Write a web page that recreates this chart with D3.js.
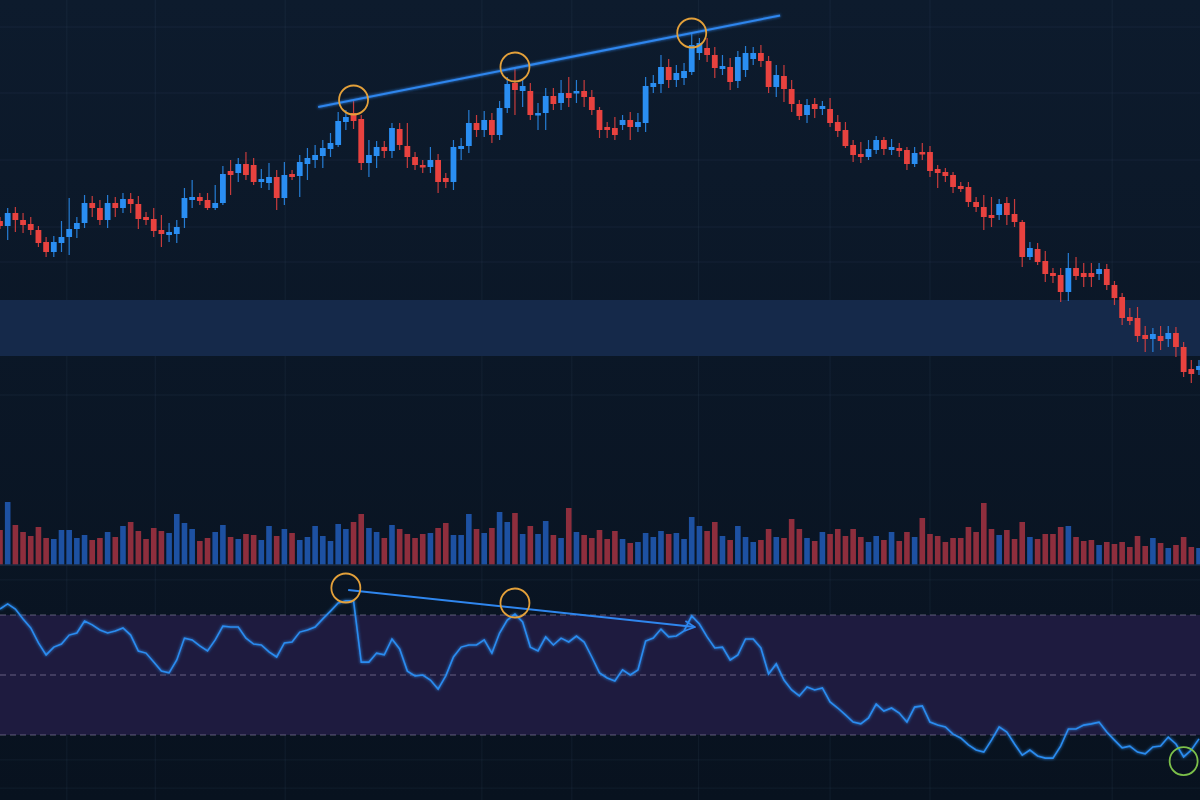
<!DOCTYPE html>
<html>
<head>
<meta charset="utf-8">
<script src="https://cdn.jsdelivr.net/npm/d3@7"></script>
<style>
  html, body { margin: 0; padding: 0; background: #0b1828; }
  svg { display: block; }
</style>
</head>
<body>
<div id="chart"></div>
<script>
// ---- data ----
const opens = [
  37.9, 37.4, 38.7, 38.0, 37.6, 37.0, 35.8, 34.8, 35.7, 36.3,
  37.1, 37.7, 39.7, 39.2, 38.0, 39.7, 39.2, 40.1, 39.6, 38.3,
  38.1, 37.0, 36.5, 36.6, 38.2, 40.0, 40.3, 40.0, 39.2, 39.7,
  42.9, 42.7, 43.6, 43.5, 41.8, 41.7, 42.3, 40.2, 42.6, 42.4,
  43.6, 44.0, 44.4, 45.1, 45.5, 47.8, 48.7, 48.1, 43.7, 44.4,
  45.3, 44.9, 47.1, 45.4, 44.3, 43.5, 43.3, 44.0, 42.2, 41.8,
  45.1, 45.4, 47.7, 47.0, 48.0, 46.5, 49.2, 51.7, 50.9, 50.9,
  48.5, 48.7, 50.4, 49.7, 50.7, 50.7, 50.9, 50.3, 49.0, 47.3,
  47.2, 47.5, 48.0, 47.3, 47.7, 51.3, 51.6, 53.3, 52.0, 52.2,
  52.8, 54.7, 55.2, 54.5, 53.1, 53.3, 51.9, 53.0, 54.1, 54.7,
  53.9, 51.3, 52.4, 51.1, 49.6, 48.5, 49.6, 49.1, 49.1, 47.8,
  47.0, 45.5, 44.6, 44.3, 45.0, 46.0, 45.0, 45.2, 45.0, 43.6,
  44.8, 44.8, 43.1, 42.8, 42.5, 41.4, 41.3, 39.8, 39.3, 38.5,
  38.5, 39.7, 38.6, 37.8, 34.3, 35.1, 33.9, 32.7, 32.5, 30.8,
  33.2, 32.7, 32.7, 32.6, 33.1, 31.5, 30.3, 28.3, 28.2, 26.5,
  26.1, 26.4, 26.1, 26.7, 25.3, 23.1, 23.0
];
const closes = [
  37.4, 38.7, 38.0, 37.5, 37.0, 35.7, 34.8, 35.8, 36.3, 37.1,
  37.7, 39.7, 39.2, 38.0, 39.7, 39.2, 40.1, 39.6, 38.1, 38.0,
  36.9, 36.6, 36.8, 37.3, 40.2, 40.3, 39.9, 39.2, 39.7, 42.6,
  42.5, 43.6, 42.5, 41.8, 42.1, 42.3, 40.2, 42.5, 42.3, 43.8,
  44.2, 44.5, 45.2, 45.7, 47.9, 48.3, 47.9, 43.7, 44.5, 45.3,
  44.9, 47.2, 45.5, 44.3, 43.5, 43.3, 44.0, 41.8, 41.8, 45.3,
  45.4, 47.7, 47.0, 48.0, 46.5, 49.2, 51.6, 51.0, 51.4, 48.5,
  48.7, 50.4, 49.6, 50.7, 50.2, 50.9, 50.3, 49.0, 47.0, 47.0,
  46.5, 48.0, 47.3, 47.8, 51.4, 51.7, 53.3, 52.0, 52.7, 52.9,
  55.5, 55.7, 54.5, 53.2, 53.4, 51.8, 54.3, 54.7, 54.7, 53.9,
  51.3, 52.5, 51.1, 49.6, 48.4, 49.5, 49.1, 49.4, 47.7, 46.9,
  45.4, 44.5, 44.3, 45.1, 46.0, 45.1, 45.3, 44.9, 43.6, 44.7,
  44.6, 42.9, 42.7, 42.4, 41.3, 41.1, 39.8, 39.3, 38.3, 38.2,
  39.6, 38.5, 37.8, 34.3, 35.2, 33.8, 32.6, 32.4, 30.8, 33.2,
  32.4, 32.3, 32.3, 33.1, 31.5, 30.2, 28.2, 27.9, 26.4, 26.1,
  26.6, 25.9, 26.7, 25.3, 22.8, 22.6, 23.4
];
const highs = [
  38.3, 39.2, 39.3, 38.7, 38.3, 37.4, 36.3, 36.4, 37.9, 40.2,
  38.3, 40.5, 40.4, 40.0, 40.5, 40.3, 40.7, 40.7, 40.4, 38.8,
  39.2, 38.5, 37.7, 38.0, 41.2, 42.0, 40.7, 40.7, 41.5, 43.4,
  44.0, 44.2, 44.8, 44.2, 43.1, 43.7, 43.0, 43.8, 43.0, 44.5,
  45.2, 45.5, 46.0, 46.7, 48.8, 49.0, 50.0, 48.5, 46.0, 45.9,
  45.9, 47.7, 47.7, 47.7, 44.8, 44.0, 45.3, 44.6, 42.7, 46.0,
  46.2, 49.0, 48.5, 48.9, 48.7, 49.9, 52.3, 53.3, 52.0, 51.7,
  49.7, 51.2, 51.2, 52.0, 52.3, 52.0, 52.0, 51.0, 49.3, 47.8,
  48.3, 48.5, 48.8, 48.7, 52.3, 52.5, 54.5, 54.1, 53.5, 53.7,
  56.7, 56.2, 56.2, 55.3, 54.5, 54.2, 54.9, 55.4, 55.3, 55.5,
  54.4, 53.5, 53.5, 52.0, 50.0, 50.1, 50.2, 49.9, 50.2, 48.5,
  47.8, 46.0, 45.8, 46.0, 46.4, 46.3, 46.1, 45.7, 45.3, 45.3,
  45.7, 45.4, 43.5, 43.2, 42.8, 41.8, 41.8, 40.3, 40.5, 40.3,
  40.1, 40.3, 40.1, 38.0, 35.8, 35.7, 34.9, 33.2, 33.2, 34.7,
  34.3, 33.7, 33.7, 33.7, 33.6, 31.9, 30.7, 29.2, 29.3, 27.4,
  27.2, 27.4, 27.4, 27.3, 25.8, 24.0, 24.0
];
const lows = [
  37.1, 36.0, 36.8, 36.7, 36.5, 35.3, 34.3, 34.3, 34.8, 34.5,
  36.2, 37.2, 38.3, 37.5, 37.2, 38.3, 38.7, 38.7, 37.1, 37.5,
  36.3, 35.3, 35.8, 35.7, 37.2, 39.2, 39.5, 39.0, 39.0, 39.5,
  40.5, 41.8, 42.0, 41.5, 41.2, 41.0, 39.0, 39.5, 42.0, 40.3,
  42.0, 43.2, 43.2, 44.3, 45.3, 47.0, 47.1, 43.0, 42.3, 43.2,
  44.2, 44.2, 45.0, 43.2, 43.0, 42.7, 42.7, 40.7, 41.2, 41.0,
  44.0, 44.7, 46.3, 46.3, 45.7, 46.0, 48.7, 48.5, 49.3, 48.0,
  47.0, 47.0, 49.0, 49.0, 49.3, 49.7, 49.3, 48.5, 46.2, 46.2,
  46.0, 47.0, 46.0, 46.8, 46.8, 50.7, 50.7, 51.2, 51.3, 51.5,
  52.5, 54.0, 53.8, 52.2, 52.5, 51.0, 51.2, 52.3, 53.5, 53.3,
  50.7, 50.3, 49.8, 48.8, 48.0, 47.7, 48.2, 48.5, 47.3, 46.3,
  45.2, 43.8, 43.7, 44.0, 44.6, 44.5, 44.5, 44.3, 43.0, 43.3,
  44.0, 42.3, 41.2, 41.8, 40.7, 40.8, 39.3, 38.8, 37.0, 37.3,
  38.0, 37.5, 37.3, 33.3, 34.0, 33.5, 31.8, 31.7, 29.8, 29.9,
  32.0, 31.3, 31.3, 32.0, 31.0, 29.5, 27.5, 27.5, 25.8, 24.8,
  24.8, 25.0, 25.3, 24.3, 22.3, 21.7, 22.5
];
const volumes = [
  3.5, 6.3, 4.0, 3.3, 2.9, 3.8, 2.7, 2.6, 3.5, 3.5,
  2.7, 3.0, 2.5, 2.7, 3.3, 2.8, 3.9, 4.3, 3.4, 2.6,
  3.7, 3.4, 3.2, 5.1, 4.2, 3.6, 2.4, 2.7, 3.3, 4.0,
  2.8, 2.6, 3.1, 3.0, 2.5, 3.9, 2.9, 3.6, 3.2, 2.5,
  2.8, 3.9, 2.9, 2.4, 4.1, 3.6, 4.3, 5.1, 3.7, 3.3,
  2.7, 4.0, 3.6, 3.1, 2.7, 3.1, 3.2, 3.7, 4.2, 3.0,
  3.0, 5.1, 3.6, 3.2, 3.7, 5.3, 4.3, 5.2, 3.1, 3.9,
  3.1, 4.4, 3.0, 2.7, 5.7, 3.3, 3.0, 2.7, 3.5, 2.6,
  3.4, 2.6, 2.2, 2.3, 3.2, 2.8, 3.4, 3.1, 3.2, 2.6,
  4.8, 3.9, 3.4, 4.3, 2.9, 2.5, 3.9, 2.8, 2.3, 2.5,
  3.6, 2.8, 2.7, 4.6, 3.6, 2.7, 2.4, 3.3, 3.1, 3.6,
  2.9, 3.6, 2.8, 2.3, 2.9, 2.5, 3.3, 2.4, 3.3, 2.8,
  4.7, 3.1, 2.9, 2.3, 2.7, 2.7, 3.8, 3.3, 6.2, 3.6,
  3.0, 3.5, 2.6, 4.3, 2.8, 2.6, 3.1, 3.1, 3.8, 3.9,
  2.8, 2.4, 2.5, 2.0, 2.3, 2.1, 2.3, 1.8, 2.9, 1.9,
  2.7, 2.2, 1.7, 2.0, 2.8, 1.8, 1.7
];
const rsi = [
  72.0, 73.7, 72.0, 68.7, 65.7, 60.7, 56.7, 59.3, 60.3, 63.3,
  64.0, 68.0, 66.7, 65.0, 64.0, 64.7, 65.7, 63.3, 58.0, 57.3,
  54.3, 51.3, 50.7, 55.0, 62.3, 61.7, 59.7, 58.0, 61.7, 66.3,
  66.0, 66.0, 62.3, 60.3, 60.0, 57.7, 56.0, 60.7, 61.0, 64.3,
  65.0, 66.0, 68.7, 71.3, 74.0, 74.7, 74.7, 54.3, 54.3, 57.3,
  56.7, 62.0, 58.7, 51.3, 49.7, 50.0, 48.3, 45.3, 49.7, 56.0,
  59.3, 60.0, 60.0, 61.7, 57.3, 64.0, 68.3, 70.3, 67.7, 59.3,
  58.0, 62.7, 60.0, 62.3, 61.0, 63.0, 61.0, 56.0, 50.7, 49.0,
  48.0, 51.7, 50.0, 51.7, 61.3, 62.3, 65.3, 62.7, 63.0, 64.7,
  69.7, 67.0, 62.7, 59.0, 59.3, 55.0, 56.7, 62.0, 62.0, 59.0,
  50.3, 53.7, 48.3, 45.0, 43.0, 46.0, 45.0, 45.7, 41.0, 39.0,
  36.7, 34.3, 33.7, 35.7, 40.3, 38.0, 39.0, 37.3, 34.3, 39.3,
  39.7, 34.3, 33.3, 32.7, 30.3, 29.0, 26.7, 25.0, 24.3, 28.3,
  32.7, 31.0, 27.0, 23.3, 25.0, 23.0, 22.3, 22.3, 26.3, 32.0,
  32.0, 33.3, 33.7, 34.3, 31.0, 28.3, 25.7, 26.3, 24.3, 23.7,
  26.0, 26.3, 29.3, 27.0, 22.7, 25.0, 28.7
];

// levels and annotations
const supportZone = [24.4, 30.0];          // price band
const rsiLevels = [70, 50, 30];            // dashed guides
const rsiBand = [30, 70];
const priceGrid = [57.3, 50.7, 44.0, 37.3, 33.8, 20.5];
const rsiGrid = [81.7, 21.7, 12.3];
const timeGrid = [8.7, 20.2, 37.1, 62.7, 74.4, 90.9, 108.0, 121.0, 144.7];
const highPivots = [46, 67, 90];           // candles with rising highs
const trendSpan = [41.4, 101.5];           // trend line extent (bar index)
const rsiPivots = [{ i: 45, v: 79.0 }, { i: 67, v: 74.0 }];
const rsiArrow = [{ i: 45.3, v: 78.3 }, { i: 90.4, v: 66.0 }];
const rsiLow = { i: 154, v: 21.3 };

const W = 1200, H = 800;
const N = closes.length;

const svg = d3.select("#chart").append("svg")
  .attr("width", W).attr("height", H);

const defs = svg.append("defs");
const bg = defs.append("linearGradient").attr("id", "bg")
  .attr("x1", 0).attr("y1", 0).attr("x2", 0).attr("y2", 1);
bg.append("stop").attr("offset", "0%").attr("stop-color", "#0d1b2d");
bg.append("stop").attr("offset", "100%").attr("stop-color", "#08121f");

const glow = defs.append("filter").attr("id", "glow")
  .attr("x", "-20%").attr("y", "-20%").attr("width", "140%").attr("height", "140%");
glow.append("feGaussianBlur").attr("stdDeviation", 1.6).attr("result", "b");
const fm = glow.append("feMerge");
fm.append("feMergeNode").attr("in", "b");
fm.append("feMergeNode").attr("in", "SourceGraphic");

defs.append("marker").attr("id", "arrow")
  .attr("viewBox", "0 0 12 12").attr("refX", 11).attr("refY", 6)
  .attr("markerWidth", 12).attr("markerHeight", 12)
  .attr("markerUnits", "userSpaceOnUse").attr("orient", "auto")
  .append("path").attr("d", "M1,1 L11,6 L1,11")
  .attr("fill", "none").attr("stroke", "#2f86ee").attr("stroke-width", 1.6);

svg.append("rect").attr("width", W).attr("height", H).attr("fill", "url(#bg)");

// scales
const x = d3.scaleLinear().domain([0, N - 1]).range([0, 1199]);
const yPrice = d3.scaleLinear().domain([20, 60]).range([400, 0]);
const yVol = d3.scaleLinear().domain([0, 8]).range([565, 485]);
const yRsi = d3.scaleLinear().domain([10, 85]).range([795, 570]);

const up = i => closes[i] >= opens[i];
const BLUE = "#2a8ef2", RED = "#e8423f";
const gridColor = "rgba(110,140,180,0.09)";

// grid
svg.append("g").selectAll("line").data(timeGrid).join("line")
  .attr("x1", d => x(d)).attr("x2", d => x(d))
  .attr("y1", 0).attr("y2", H)
  .attr("stroke", gridColor);
svg.append("g").selectAll("line").data(priceGrid).join("line")
  .attr("x1", 0).attr("x2", W)
  .attr("y1", d => yPrice(d)).attr("y2", d => yPrice(d))
  .attr("stroke", gridColor);
svg.append("g").selectAll("line").data(rsiGrid).join("line")
  .attr("x1", 0).attr("x2", W)
  .attr("y1", d => yRsi(d)).attr("y2", d => yRsi(d))
  .attr("stroke", gridColor);

// support zone
svg.append("rect")
  .attr("x", 0).attr("width", W)
  .attr("y", yPrice(supportZone[1]))
  .attr("height", yPrice(supportZone[0]) - yPrice(supportZone[1]))
  .attr("fill", "#15294a");

// candles
const candles = svg.append("g").selectAll("g").data(d3.range(N)).join("g");
candles.append("line")
  .attr("x1", i => x(i)).attr("x2", i => x(i))
  .attr("y1", i => yPrice(highs[i])).attr("y2", i => yPrice(lows[i]))
  .attr("stroke", i => up(i) ? BLUE : RED)
  .attr("stroke-opacity", 0.85)
  .attr("stroke-width", 1.2);
candles.append("rect")
  .attr("x", i => x(i) - 2.9).attr("width", 5.8)
  .attr("y", i => yPrice(Math.max(opens[i], closes[i])))
  .attr("height", i => Math.max(2.5, Math.abs(yPrice(opens[i]) - yPrice(closes[i]))))
  .attr("fill", i => up(i) ? BLUE : RED);

// volume
svg.append("g").selectAll("rect").data(d3.range(N)).join("rect")
  .attr("x", i => x(i) - 2.8).attr("width", 5.6)
  .attr("y", i => yVol(volumes[i]))
  .attr("height", i => yVol(0) - yVol(volumes[i]))
  .attr("fill", i => up(i) ? "#1d51a2" : "#8e2e3d");
svg.append("line")
  .attr("x1", 0).attr("x2", W).attr("y1", yVol(0)).attr("y2", yVol(0))
  .attr("stroke", "#1b2b42").attr("stroke-width", 1.5);

// RSI panel
svg.append("rect")
  .attr("x", 0).attr("width", W)
  .attr("y", yRsi(rsiBand[1])).attr("height", yRsi(rsiBand[0]) - yRsi(rsiBand[1]))
  .attr("fill", "#1e1b3f");
svg.append("g").selectAll("line").data(rsiLevels).join("line")
  .attr("x1", 0).attr("x2", W)
  .attr("y1", d => yRsi(d)).attr("y2", d => yRsi(d))
  .attr("stroke", "rgba(190,185,215,0.45)")
  .attr("stroke-dasharray", "6,4");

svg.append("path")
  .datum(rsi)
  .attr("d", d3.line().x((d, i) => x(i)).y(d => yRsi(d)))
  .attr("fill", "none")
  .attr("stroke", "#2b8cf0")
  .attr("stroke-width", 1.6)
  .attr("filter", "url(#glow)");

// price trend line through the pivot highs
const [pa, pb] = [highPivots[0], highPivots[2]];
const slope = (highs[pb] - highs[pa]) / (pb - pa);
const trendAt = i => highs[pa] + (i - pa) * slope;
svg.append("line")
  .attr("x1", x(trendSpan[0])).attr("y1", yPrice(trendAt(trendSpan[0])))
  .attr("x2", x(trendSpan[1])).attr("y2", yPrice(trendAt(trendSpan[1])))
  .attr("stroke", "#2f86ee").attr("stroke-width", 2)
  .attr("filter", "url(#glow)");

svg.append("g").selectAll("circle").data(highPivots).join("circle")
  .attr("cx", i => x(i)).attr("cy", i => yPrice(highs[i]))
  .attr("r", 14.5)
  .attr("fill", "none").attr("stroke", "#e3a03a").attr("stroke-width", 1.8);

// RSI divergence arrow and circles
svg.append("line")
  .attr("x1", x(rsiArrow[0].i)).attr("y1", yRsi(rsiArrow[0].v))
  .attr("x2", x(rsiArrow[1].i)).attr("y2", yRsi(rsiArrow[1].v))
  .attr("stroke", "#2f86ee").attr("stroke-width", 2)
  .attr("marker-end", "url(#arrow)");

svg.append("g").selectAll("circle").data(rsiPivots).join("circle")
  .attr("cx", d => x(d.i)).attr("cy", d => yRsi(d.v))
  .attr("r", 14.5)
  .attr("fill", "none").attr("stroke", "#e3a03a").attr("stroke-width", 1.8);

svg.append("circle")
  .attr("cx", x(rsiLow.i)).attr("cy", yRsi(rsiLow.v))
  .attr("r", 14)
  .attr("fill", "none").attr("stroke", "#7cc04a").attr("stroke-width", 1.8);
</script>
</body>
</html>
